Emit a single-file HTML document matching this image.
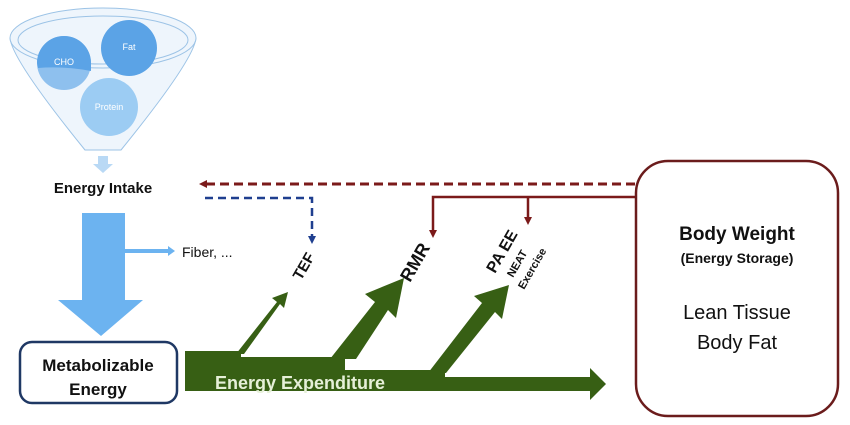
<!DOCTYPE html>
<html><head><meta charset="utf-8"><style>
html,body{margin:0;padding:0;background:#fff;}
svg{display:block;font-family:"Liberation Sans",sans-serif;}
</style></head><body>
<svg width="850" height="425" viewBox="0 0 850 425" xmlns="http://www.w3.org/2000/svg">
<defs>
<marker id="rh" markerWidth="8" markerHeight="8" refX="4" refY="4" orient="auto" markerUnits="userSpaceOnUse"><path d="M0,0 L8,4 L0,8 z" fill="#7b1a1a"/></marker>
<marker id="bh" markerWidth="8" markerHeight="8" refX="4" refY="4" orient="auto" markerUnits="userSpaceOnUse"><path d="M0,0 L8,4 L0,8 z" fill="#1f3f8f"/></marker>
</defs>
<!-- funnel -->
<path d="M10,38 Q12,60 85,150 L121,150 Q194,60 196,38" fill="#eef5fc" stroke="#9cc3e6" stroke-width="1"/>
<ellipse cx="103" cy="38" rx="93" ry="30" fill="#eef5fc" stroke="#9cc3e6" stroke-width="1"/>
<ellipse cx="103" cy="40" rx="85" ry="24" fill="none" stroke="#9cc3e6" stroke-width="1"/>
<circle cx="64" cy="63" r="27" fill="#8ec0ee"/>
<path d="M37,63 A27,27 0 0 1 91,63 L91,71 Q64,66 38,68 Z" fill="#5ba3e6"/>
<circle cx="129" cy="48" r="28" fill="#5ba3e6"/>
<circle cx="109" cy="107" r="29" fill="#9cccf3"/>
<text x="64" y="65" font-size="9" fill="#fff" text-anchor="middle">CHO</text>
<text x="129" y="50" font-size="9" fill="#fff" text-anchor="middle">Fat</text>
<text x="109" y="110" font-size="9" fill="#fff" text-anchor="middle">Protein</text>
<path d="M98,156 L108,156 L108,164 L113,164 L103,173 L93,164 L98,164 Z" fill="#b9d9f5"/>
<text x="103" y="193" font-size="15" font-weight="bold" fill="#111" text-anchor="middle">Energy Intake</text>
<!-- blue arrow -->
<path d="M82,213 L125,213 L125,300 L143,300 L101,336 L58,300 L82,300 Z" fill="#6cb3f0"/>
<line x1="124" y1="251" x2="168" y2="251" stroke="#6cb3f0" stroke-width="4"/>
<path d="M168,246 L175,251 L168,256 Z" fill="#6cb3f0"/>
<text x="182" y="257" font-size="14" fill="#111">Fiber, ...</text>
<rect x="20" y="342" width="157" height="61" rx="12" fill="#fff" stroke="#1f3864" stroke-width="2.5"/>
<text x="98" y="371" font-size="17" font-weight="bold" fill="#111" text-anchor="middle">Metabolizable</text>
<text x="98" y="395" font-size="17" font-weight="bold" fill="#111" text-anchor="middle">Energy</text>
<!-- green -->
<g fill="#375f14">
<rect x="185" y="351" width="56" height="40"/>
<rect x="240" y="357" width="105" height="34"/>
<rect x="340" y="370" width="105" height="21"/>
<rect x="440" y="377" width="152" height="14"/>
<path d="M590,368 L606,384 L590,400 Z"/>
<path d="M236,354 L277,302 L272,298 L288,292 L284,308 L280,304 L244,354 Z"/>
<path d="M330,359 L375,302 L365,294 L404,278 L396,318 L388,310 L356,359 Z"/>
<path d="M428,373 L482,303 L474,296 L509,285 L502,319 L495,312 L446,373 Z"/>
</g>
<text x="215" y="389" font-size="18" font-weight="bold" fill="#e6f0d8">Energy Expenditure</text>
<text transform="translate(301,281) rotate(-60)" font-size="15" font-weight="bold" fill="#111">TEF</text>
<text transform="translate(410,283) rotate(-60)" font-size="18" font-weight="bold" fill="#111">RMR</text>
<text transform="translate(495,274) rotate(-60)" font-size="16" font-weight="bold" fill="#111">PA EE</text>
<text transform="translate(513,278) rotate(-60)" font-size="11" font-weight="bold" fill="#111">NEAT</text>
<text transform="translate(524,290) rotate(-60)" font-size="11" font-weight="bold" fill="#111">Exercise</text>
<!-- feedback lines -->
<line x1="635" y1="184" x2="203" y2="184" stroke="#7b1a1a" stroke-width="3" stroke-dasharray="9,5" marker-end="url(#rh)"/>
<polyline points="205,198 312,198 312,240" fill="none" stroke="#1f3f8f" stroke-width="2.5" stroke-dasharray="8,5" marker-end="url(#bh)"/>
<polyline points="635,197 433,197 433,234" fill="none" stroke="#7b1a1a" stroke-width="2.5" marker-end="url(#rh)"/>
<line x1="528" y1="197" x2="528" y2="221" stroke="#7b1a1a" stroke-width="2.5" marker-end="url(#rh)"/>
<!-- body weight -->
<rect x="636" y="161" width="202" height="255" rx="32" fill="#fff" stroke="#6b1c1c" stroke-width="2.5"/>
<text x="737" y="240" font-size="19" font-weight="bold" fill="#111" text-anchor="middle">Body Weight</text>
<text x="737" y="263" font-size="14" font-weight="bold" fill="#111" text-anchor="middle">(Energy Storage)</text>
<text x="737" y="319" font-size="20" fill="#111" text-anchor="middle">Lean Tissue</text>
<text x="737" y="349" font-size="20" fill="#111" text-anchor="middle">Body Fat</text>
</svg>
</body></html>
